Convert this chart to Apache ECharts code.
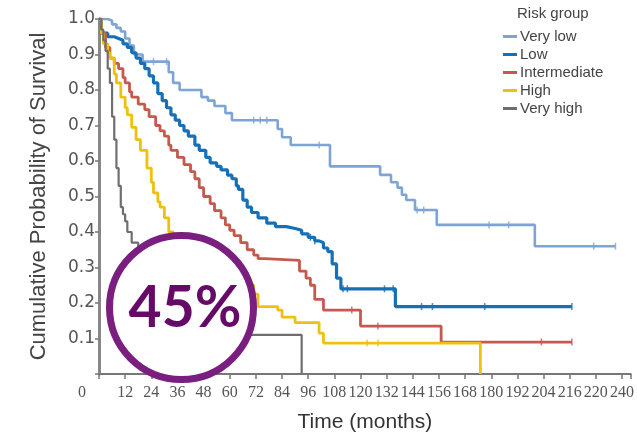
<!DOCTYPE html>
<html>
<head>
<meta charset="utf-8">
<script src="https://cdn.jsdelivr.net/npm/echarts@6/dist/echarts.min.js"></script>
<style>
  html, body { margin: 0; padding: 0; background: #fff; }
  #chart { width: 637px; height: 442px; }
</style>
</head>
<body>
<div id="chart"></div>
<script>
// Kaplan-Meier curves: [month, survival]
var groupNames = ['Very low', 'Low', 'Intermediate', 'High', 'Very high']
var groupColors = ['#7ea4d6', '#1670b8', '#c5594e', '#efc10f', '#6f6f6f']

var veryLow = [[0, 1.0], [4, 0.995], [6, 0.985], [8, 0.975], [10, 0.965], [12, 0.945], [14, 0.925], [16, 0.90], [20, 0.88],
  [32, 0.85], [34, 0.82], [37, 0.80], [47, 0.78], [50, 0.77], [53, 0.755], [58, 0.735], [61, 0.715], [82, 0.69], [84, 0.667],
  [88, 0.645], [106, 0.585], [129, 0.561], [134, 0.54], [137, 0.525], [139, 0.505], [141, 0.49], [145, 0.462], [155, 0.42],
  [200, 0.36], [237, 0.36]]

var low = [[0, 1.0], [1, 0.96], [4, 0.95], [7, 0.945], [9, 0.94], [11, 0.93], [13, 0.92], [15, 0.905], [17, 0.89], [19, 0.875],
  [21, 0.86], [23, 0.84], [25, 0.82], [27, 0.79], [29, 0.77], [31, 0.75], [33, 0.73], [35, 0.715], [37, 0.70], [39, 0.685],
  [41, 0.67], [44, 0.645], [46, 0.63], [49, 0.61], [51, 0.595], [54, 0.585], [56, 0.575], [59, 0.56], [61, 0.55], [63, 0.53],
  [64, 0.52], [66, 0.49], [68, 0.47], [70, 0.455], [73, 0.44], [77, 0.425], [81, 0.415], [86, 0.41], [90, 0.405], [93, 0.395],
  [96, 0.385], [99, 0.375], [101, 0.37], [103, 0.355], [105, 0.345], [107, 0.31], [109, 0.27], [111, 0.24], [136, 0.19], [217, 0.19]]

var intermediate = [[0, 1.0], [1, 0.96], [3, 0.92], [5, 0.89], [7, 0.875], [9, 0.86], [11, 0.835], [12, 0.82], [14, 0.795],
  [15, 0.78], [18, 0.76], [21, 0.745], [23, 0.725], [26, 0.70], [28, 0.685], [30, 0.67], [32, 0.645], [33, 0.63], [36, 0.61],
  [39, 0.59], [42, 0.57], [44, 0.55], [46, 0.525], [48, 0.50], [51, 0.48], [53, 0.46], [56, 0.44], [58, 0.42], [60, 0.405],
  [62, 0.39], [65, 0.37], [68, 0.35], [71, 0.335], [73, 0.325], [76, 0.32], [92, 0.29], [95, 0.27], [97, 0.25], [99, 0.21],
  [103, 0.18], [120, 0.135], [157, 0.09], [217, 0.09]]

var high = [[0, 1.0], [1, 0.96], [2, 0.93], [4, 0.905], [5, 0.89], [7, 0.845], [8, 0.82], [10, 0.78], [12, 0.75], [13, 0.73],
  [15, 0.695], [17, 0.66], [19, 0.63], [22, 0.58], [24, 0.54], [25, 0.51], [27, 0.485], [28, 0.47], [30, 0.44], [32, 0.40],
  [34, 0.385], [36, 0.37], [42, 0.34], [50, 0.31], [58, 0.28], [66, 0.25], [71, 0.225], [73, 0.19], [82, 0.18], [84, 0.16],
  [90, 0.145], [101, 0.115], [103, 0.087], [175, 0.087], [175, 0]]

var veryHigh = [[0, 1.0], [1, 0.97], [2, 0.94], [3, 0.91], [4, 0.86], [5, 0.82], [6, 0.725], [7, 0.66], [8, 0.58], [9, 0.53],
  [10, 0.47], [11, 0.45], [12, 0.43], [13, 0.40], [15, 0.37], [18, 0.33], [22, 0.28], [26, 0.22], [32, 0.18], [40, 0.15],
  [50, 0.11], [93, 0.11], [93, 0]]

// censored observations (months)
var censorVeryLow = [25, 31, 71, 74, 77, 101, 146, 149, 179, 188, 227, 237]
var censorLow = [97, 99, 112, 114, 131, 135, 148, 153, 177, 217]
var censorIntermediate = [116, 128, 203, 217]
var censorHigh = [123, 128]
var censorVeryHigh = []

var xTicks = [0, 12, 24, 36, 48, 60, 72, 84, 96, 108, 120, 132, 144, 156, 168, 180, 192, 204, 216, 220, 240]
var yTicks = [0.1, 0.2, 0.3, 0.4, 0.5, 0.6, 0.7, 0.8, 0.9, 1.0]

var curves = [veryLow, low, intermediate, high, veryHigh]
var censors = [censorVeryLow, censorLow, censorIntermediate, censorHigh, censorVeryHigh]
var lineWidths = [2.6, 3.2, 2.8, 2.8, 2.2]

function survAt(curve, t) {
  var v = curve[0][1]
  for (var i = 0; i < curve.length; i++) {
    if (curve[i][0] <= t) v = curve[i][1]
  }
  return v
}

var series = []
curves.forEach(function(c, i) {
  series.push({
    name: groupNames[i],
    type: 'line',
    step: 'end',
    data: c,
    showSymbol: false,
    lineStyle: { color: groupColors[i], width: lineWidths[i] },
    itemStyle: { color: groupColors[i] },
    z: 2 + i
  })
  if (censors[i].length) {
    series.push({
      name: groupNames[i],
      type: 'scatter',
      symbol: 'rect',
      symbolSize: [1.5, 7],
      data: censors[i].map(function(t) { return [t, survAt(c, t)] }),
      itemStyle: { color: groupColors[i] },
      z: 2 + i
    })
  }
})

var chart = echarts.init(document.getElementById('chart'))
chart.setOption({
  animation: false,
  grid: { left: 99, right: 1, top: 19, bottom: 68, containLabel: false },
  legend: {
    data: groupNames,
    orient: 'vertical',
    left: 498,
    top: 24,
    itemWidth: 14,
    itemHeight: 3,
    itemGap: 3,
    icon: 'rect',
    textStyle: { fontFamily: 'Liberation Sans', fontSize: 15, color: '#444', padding: [0, 0, 0, -2] }
  },
  xAxis: {
    type: 'value',
    min: 0,
    max: 244,
    interval: 12,
    name: 'Time (months)',
    nameLocation: 'middle',
    nameGap: 38,
    nameTextStyle: { fontFamily: 'Liberation Sans', fontSize: 21, color: '#333' },
    axisLine: { lineStyle: { color: '#777', width: 2 } },
    axisTick: { length: 5, lineStyle: { color: '#777', width: 1.5 } },
    splitLine: { show: false },
    axisLabel: {
      margin: 11,
      fontFamily: 'Liberation Sans Narrow',
      fontSize: 16,
      color: '#555',
      formatter: function(v) {
        var idx = v / 12
        if (v % 12 !== 0 || idx >= xTicks.length) return ''
        if (v === 0) return '{o|0}'
        return String(xTicks[idx])
      },
      rich: { o: { fontFamily: 'Liberation Sans Narrow', fontSize: 16, color: '#555', padding: [0, 34, 0, 0] } }
    }
  },
  yAxis: {
    type: 'value',
    min: 0,
    max: 1,
    interval: 0.1,
    name: 'Cumulative Probability of Survival',
    nameLocation: 'middle',
    nameGap: 49,
    nameTextStyle: { fontFamily: 'Liberation Sans', fontSize: 22, color: '#444' },
    axisLine: { show: true, lineStyle: { color: '#888', width: 3 } },
    axisTick: { show: true, length: 4, lineStyle: { color: '#777', width: 1.5 } },
    splitLine: { show: false },
    axisLabel: {
      margin: 4,
      fontFamily: 'DejaVu Sans',
      fontSize: 17,
      color: '#555',
      formatter: function(v) {
        var hit = yTicks.filter(function(t) { return Math.abs(t - v) < 1e-6 })
        return hit.length ? hit[0].toFixed(1) : ''
      }
    }
  },
  graphic: [
    {
      type: 'text',
      left: 517,
      top: 6,
      style: { text: 'Risk group', fontFamily: 'Liberation Sans', fontSize: 15, fill: '#444' }
    },
    {
      type: 'circle',
      shape: { cx: 181.5, cy: 307.5, r: 72 },
      style: { fill: '#fff', stroke: '#7a1f80', lineWidth: 7 },
      z: 100
    },
    {
      type: 'text',
      x: 185,
      y: 309,
      style: {
        text: '45%',
        fontFamily: 'Lato',
        fontWeight: 'bold',
        fontSize: 57,
        fill: '#650a66',
        align: 'center',
        verticalAlign: 'middle'
      },
      z: 101
    }
  ],
  series: series
})
</script>
</body>
</html>
